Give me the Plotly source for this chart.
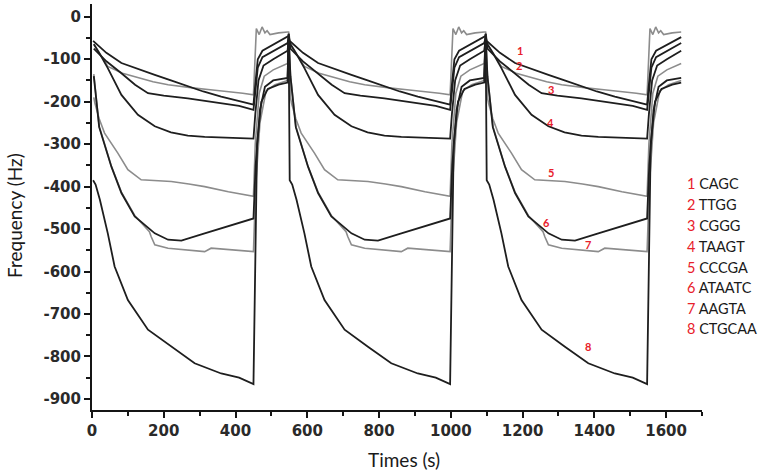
import plotly.graph_objects as go

# ---------------- data ----------------
labels = ["CAGC", "TTGG", "CGGG", "TAAGT", "CCCGA", "ATAATC", "AAGTA", "CTGCAA"]
numbers = ["1", "2", "3", "4", "5", "6", "7", "8"]
cycle_starts = [0, 548, 1097]

# decay phase (tau = seconds after cycle start) and recovery phase, per curve
c1_dec_t = [0, 3, 40, 82, 130, 175, 220, 267, 310, 360, 405, 450]
c1_dec_v = [-45, -57, -85, -109, -124, -137, -150, -164, -176, -188, -197, -207]
c1_rec_t = [455, 462, 475, 505, 545]
c1_rec_v = [-160, -100, -80, -66, -48]

c2_dec_t = [0, 5, 44, 85, 128, 170, 212, 250, 286, 330, 379, 420, 450]
c2_dec_v = [-36, -64, -117, -133, -144, -153, -160, -165, -168, -172, -176, -180, -184]
c2_rec_t = [455, 458, 466, 474, 482, 488, 496, 520, 545]
c2_rec_v = [-100, -28, -42, -24, -38, -33, -42, -38, -36]

c3_dec_t = [0, 5, 40, 82, 120, 156, 200, 267, 310, 360, 410, 450]
c3_dec_v = [-50, -75, -105, -133, -160, -180, -186, -192, -197, -203, -210, -219]
c3_rec_t = [455, 462, 475, 505, 545]
c3_rec_v = [-170, -120, -95, -80, -62]

c4_dec_t = [0, 5, 20, 44, 82, 128, 175, 220, 267, 314, 360, 410, 450]
c4_dec_v = [-55, -65, -85, -121, -184, -231, -258, -272, -280, -283, -284, -286, -287]
c4_rec_t = [455, 464, 478, 505, 545]
c4_rec_v = [-230, -150, -115, -100, -80]

c5_dec_t = [0, 5, 8, 20, 35, 72, 100, 137, 180, 221, 270, 314, 380, 450]
c5_dec_v = [-45, -190, -203, -240, -274, -321, -360, -384, -386, -388, -394, -400, -412, -423]
c5_rec_t = [455, 466, 480, 505, 545]
c5_rec_v = [-300, -180, -140, -125, -110]

c6_dec_t = [0, 5, 20, 54, 82, 119, 175, 212, 249, 314, 379, 450]
c6_dec_v = [-40, -140, -260, -353, -415, -470, -510, -525, -527, -510, -494, -475]
c6_rec_t = [456, 468, 482, 505, 545]
c6_rec_v = [-350, -220, -165, -150, -144]

c7_dec_t = [0, 5, 20, 54, 82, 119, 160, 165, 175, 212, 267, 314, 332, 380, 407, 450]
c7_dec_v = [-42, -135, -258, -352, -413, -468, -506, -518, -537, -545, -549, -553, -545, -548, -549, -553]
c7_rec_t = [456, 468, 485, 510, 545]
c7_rec_v = [-400, -250, -175, -160, -150]

c8_dec_t = [0, 3, 10, 22, 44, 63, 100, 156, 221, 286, 360, 410, 450]
c8_dec_v = [-40, -385, -395, -431, -510, -588, -667, -737, -777, -816, -840, -850, -865]
c8_rec_t = [454, 460, 472, 490, 520, 545]
c8_rec_v = [-600, -300, -200, -170, -160, -155]

# in-plot number labels (third cycle)
mark_t = [1192, 1190, 1278, 1278, 1278, 1266, 1383, 1383]
mark_v = [-80, -115, -172, -249, -367, -485, -536, -777]

# axis ticks
x_tickvals = [0, 200, 400, 600, 800, 1000, 1200, 1400, 1600]
y_tickvals = [0, -100, -200, -300, -400, -500, -600, -700, -800, -900]
y_ticktext = ["0", "-100", "-200", "-300", "-400", "-500", "-600", "-700", "-800", "-900"]

# ---------------- build ----------------
curves = [
    (c1_dec_t, c1_dec_v, c1_rec_t, c1_rec_v),
    (c2_dec_t, c2_dec_v, c2_rec_t, c2_rec_v),
    (c3_dec_t, c3_dec_v, c3_rec_t, c3_rec_v),
    (c4_dec_t, c4_dec_v, c4_rec_t, c4_rec_v),
    (c5_dec_t, c5_dec_v, c5_rec_t, c5_rec_v),
    (c6_dec_t, c6_dec_v, c6_rec_t, c6_rec_v),
    (c7_dec_t, c7_dec_v, c7_rec_t, c7_rec_v),
    (c8_dec_t, c8_dec_v, c8_rec_t, c8_rec_v),
]
grey_idx = {1, 4, 6}
# draw grey ones first so black lines sit on top
order = [1, 4, 6, 0, 2, 3, 5, 7]

fig = go.Figure()
for i in order:
    dt, dv, rt, rv = curves[i]
    xs, ys = [], []
    for k, s in enumerate(cycle_starts):
        for j, (t, v) in enumerate(zip(dt, dv)):
            if k == 0 and j == 0:
                continue
            xs.append(s + t)
            ys.append(v)
        for t, v in zip(rt, rv):
            xs.append(s + t)
            ys.append(v)
    grey = i in grey_idx
    fig.add_trace(go.Scatter(
        x=xs, y=ys, mode="lines", name=labels[i], showlegend=False,
        line=dict(color="#8c8c8c" if grey else "#1e1e1e", width=1.6 if grey else 1.8),
        hoverinfo="skip"))

annotations = []
for i in range(8):
    annotations.append(dict(
        x=mark_t[i], y=mark_v[i], xref="x", yref="y", text="<b>%s</b>" % numbers[i],
        showarrow=False, font=dict(family="Lato", size=11, color="#e8202a"),
        xanchor="center", yanchor="middle"))

# legend-like list on the right
leg_px_y = [184, 205, 226, 247, 268, 288, 309, 329]
for i in range(8):
    annotations.append(dict(
        x=(685 - 92) / 610.3, y=(410 - leg_px_y[i]) / 405.7, xref="paper", yref="paper",
        text="<span style='color:#e8202a'>%s</span> %s" % (numbers[i], labels[i]),
        showarrow=False, font=dict(family="Lato", size=14.5, color="#1a1a1a"),
        xanchor="left", yanchor="middle"))

# axis titles
annotations.append(dict(
    x=(404 - 92) / 610.3, y=(410 - 459) / 405.7, xref="paper", yref="paper",
    text="Times (s)", showarrow=False, font=dict(family="Lato", size=19, color="#1a1a1a"),
    xanchor="center", yanchor="middle"))
annotations.append(dict(
    x=(15 - 92) / 610.3, y=(410 - 216) / 405.7, xref="paper", yref="paper",
    text="Frequency (Hz)", textangle=-90, showarrow=False,
    font=dict(family="Lato", size=19, color="#1a1a1a"),
    xanchor="center", yanchor="middle"))

tickfont = dict(family="DejaVu Sans", size=15, color="#2a2a2a", weight="bold")

fig.update_layout(
    width=760, height=474,
    margin=dict(l=92, r=58, t=4, b=64),
    paper_bgcolor="white", plot_bgcolor="white",
    annotations=annotations,
    xaxis=dict(range=[0, 1700], tickvals=x_tickvals, showgrid=False, zeroline=False,
               showline=True, linecolor="#151515", linewidth=2,
               ticks="outside", ticklen=6, tickwidth=2, tickcolor="#151515",
               minor=dict(dtick=100, tick0=0, ticks="outside", ticklen=4, tickwidth=2,
                          tickcolor="#151515", showgrid=False),
               tickfont=tickfont),
    yaxis=dict(range=[-926, 30], tickvals=y_tickvals, ticktext=y_ticktext,
               showgrid=False, zeroline=False,
               showline=True, linecolor="#151515", linewidth=2,
               ticks="outside", ticklen=6, tickwidth=2, tickcolor="#151515",
               minor=dict(dtick=50, tick0=0, ticks="outside", ticklen=4, tickwidth=2,
                          tickcolor="#151515", showgrid=False),
               tickfont=tickfont),
)

fig.write_html("out.html", config={"displayModeBar": False},
               post_script="document.body.style.margin='0';")
